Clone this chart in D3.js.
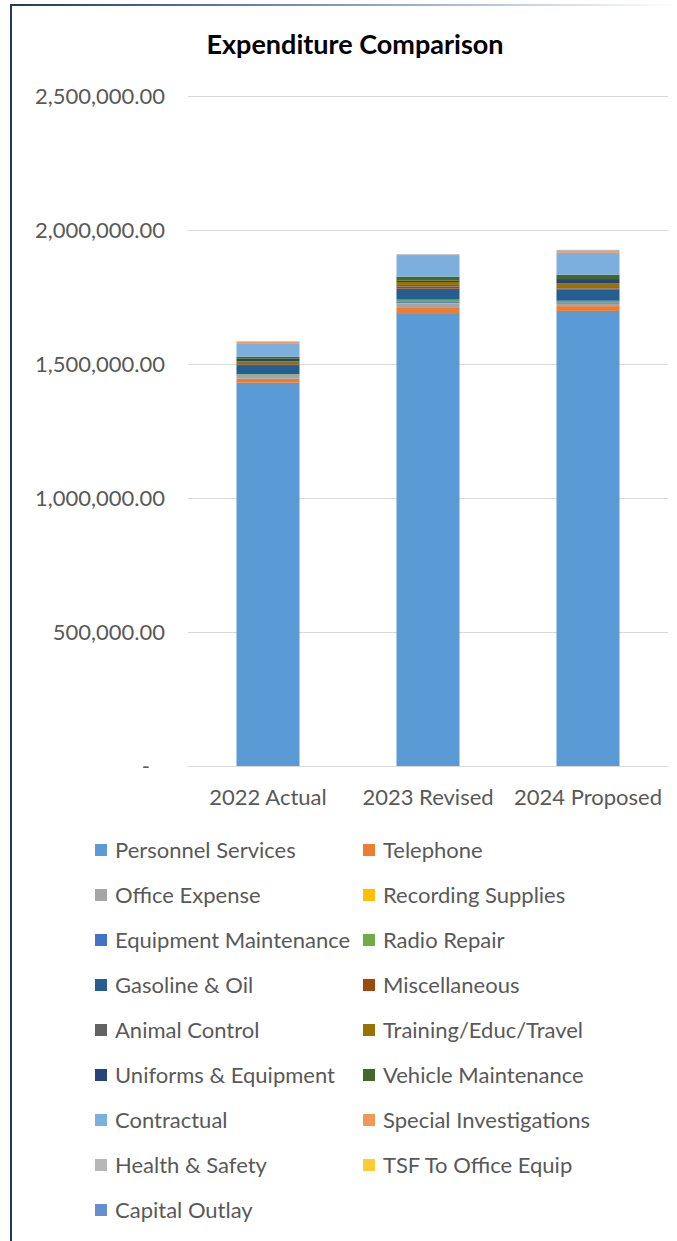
<!DOCTYPE html>
<html>
<head>
<meta charset="utf-8">
<script src="https://cdn.jsdelivr.net/npm/d3@7"></script>
<style>
  html, body { margin: 0; padding: 0; background: #fff; }
  svg { display: block; }
</style>
</head>
<body>
<svg id="chart" width="677" height="1241"></svg>
<script>
// Budget years shown as stacked columns
const categories = ["2022 Actual", "2023 Revised", "2024 Proposed"];

// Expense lines, bottom of the stack first
const seriesNames = [
  "Personnel Services", "Telephone", "Office Expense", "Recording Supplies",
  "Equipment Maintenance", "Radio Repair", "Gasoline & Oil", "Miscellaneous",
  "Animal Control", "Training/Educ/Travel", "Uniforms & Equipment", "Vehicle Maintenance",
  "Contractual", "Special Investigations", "Health & Safety", "TSF To Office Equip",
  "Capital Outlay"
];

const seriesColors = [
  "#5B9BD5", "#ED7D31", "#A5A5A5", "#FFC000",
  "#4472C4", "#70AD47", "#255E91", "#9E480E",
  "#636363", "#997300", "#264478", "#43682B",
  "#7CAFDD", "#F1975A", "#B7B7B7", "#FFCD33",
  "#698ED0"
];

// Amounts per year, in the same order as seriesNames
const actual2022   = [1430000, 15000, 11000, 1000, 3500, 2000, 30000, 6000, 5000, 7000, 9000, 8000, 50000, 6000, 1500, 0, 0];
const revised2023  = [1690000, 22000, 15000, 1000, 6000, 6000, 41000, 8000, 6000, 11000, 5000, 15000, 77000, 4000, 3000, 0, 0];
const proposed2024 = [1698000, 18000, 8000, 1000, 5000, 6000, 41000, 5000, 5000, 15000, 15000, 16000, 82000, 7000, 4000, 0, 0];

const yTicks = [0, 500000, 1000000, 1500000, 2000000, 2500000];

const yearValues = [actual2022, revised2023, proposed2024];
const rows = categories.map((c, i) => {
  const r = { category: c };
  seriesNames.forEach((s, j) => { r[s] = yearValues[i][j]; });
  return r;
});

const svg = d3.select("#chart");
const font = "Lato, 'Open Sans', sans-serif";
const textGray = "#595959";

// Frame: gradient top rule and dark left rule
const defs = svg.append("defs");
const grad = defs.append("linearGradient").attr("id", "topRule")
  .attr("x1", "0%").attr("x2", "100%");
grad.append("stop").attr("offset", "0%").attr("stop-color", "#1F3864");
grad.append("stop").attr("offset", "55%").attr("stop-color", "#8EA4C8");
grad.append("stop").attr("offset", "100%").attr("stop-color", "#ffffff");
svg.append("rect").attr("x", 10).attr("y", 4).attr("width", 667).attr("height", 2)
  .attr("fill", "url(#topRule)");
svg.append("rect").attr("x", 10).attr("y", 4).attr("width", 2).attr("height", 1237)
  .attr("fill", "#1F3864");

// Title
svg.append("text")
  .attr("x", 355).attr("y", 54)
  .attr("text-anchor", "middle")
  .attr("font-family", font).attr("font-weight", "bold")
  .attr("font-size", 27).attr("fill", "#000")
  .text("Expenditure Comparison");

const x = d3.scaleBand().domain(categories).range([188, 668])
  .paddingInner(0.606).paddingOuter(0.303);
const y = d3.scaleLinear().domain([0, 2500000]).range([766, 96]);

// Gridlines
svg.append("g").selectAll("line").data(yTicks).join("line")
  .attr("x1", 188).attr("x2", 668)
  .attr("y1", d => Math.round(y(d)) + 0.5).attr("y2", d => Math.round(y(d)) + 0.5)
  .attr("stroke", "#D9D9D9").attr("stroke-width", 1);

// Y axis labels (accounting style, dash for zero)
const fmt = d3.format(",.2f");
const yAxis = d3.axisLeft(y).tickValues(yTicks).tickSize(0).tickPadding(0)
  .tickFormat(d => d === 0 ? "-" : fmt(d));
const yg = svg.append("g").attr("transform", "translate(165,0)").call(yAxis);
yg.select(".domain").remove();
yg.selectAll("text")
  .attr("font-family", font).attr("font-size", 22).attr("fill", textGray)
  .attr("dy", "0.35em")
  .attr("dx", d => d === 0 ? -15 : 0);

// Stacked columns
const stack = d3.stack().keys(seriesNames);
const layers = stack(rows);
svg.append("g").selectAll("g").data(layers).join("g")
  .attr("fill", (d, i) => seriesColors[i])
  .selectAll("rect").data(d => d).join("rect")
  .attr("x", d => x(d.data.category))
  .attr("width", x.bandwidth())
  .attr("y", d => y(d[1]))
  .attr("height", d => Math.max(0, y(d[0]) - y(d[1])));

// X axis labels
const xAxis = d3.axisBottom(x).tickSize(0).tickPadding(0);
const xg = svg.append("g").attr("transform", "translate(0,788)").call(xAxis);
xg.select(".domain").remove();
xg.selectAll("text")
  .attr("font-family", font).attr("font-size", 22).attr("fill", textGray)
  .attr("dy", "0.75em");

// Legend, two columns
const legend = svg.append("g");
const items = legend.selectAll("g").data(seriesNames).join("g")
  .attr("transform", (d, i) => `translate(${i % 2 === 0 ? 95 : 363},${850 + Math.floor(i / 2) * 45})`);
items.append("rect")
  .attr("x", 0).attr("y", -6).attr("width", 12).attr("height", 12)
  .attr("fill", (d, i) => seriesColors[i]);
items.append("text")
  .attr("x", 20).attr("y", 0).attr("dy", "0.35em")
  .attr("font-family", font).attr("font-size", 22).attr("fill", textGray)
  .text(d => d);
</script>
</body>
</html>
